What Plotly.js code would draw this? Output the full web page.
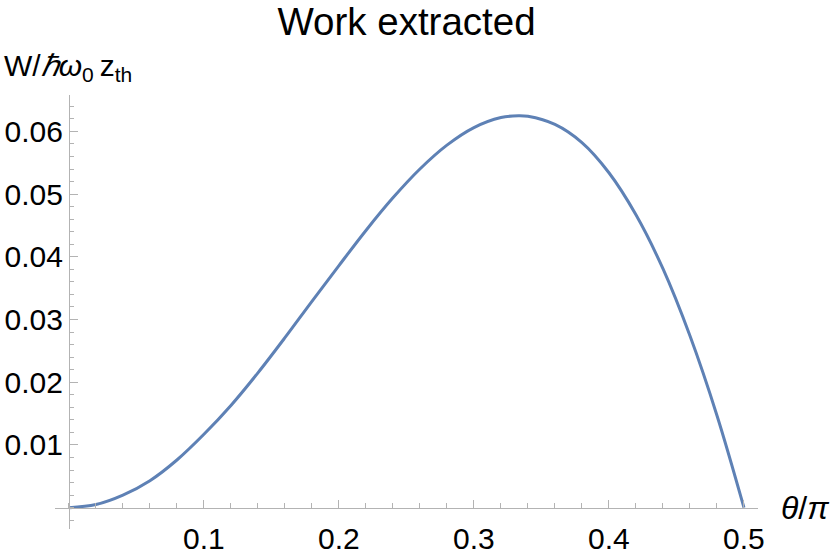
<!DOCTYPE html>
<html>
<head>
<meta charset="utf-8">
<script src="https://cdn.plot.ly/plotly-3.0.1.min.js"></script>
<style>
  html, body { margin: 0; padding: 0; background: #ffffff; }
  #chart { width: 830px; height: 554px; }
</style>
</head>
<body>
<div id="chart"></div>
<script>
// theta / pi
const thetaOverPi = [0, 0.02, 0.04, 0.06, 0.08, 0.10, 0.12, 0.14, 0.16, 0.18, 0.20, 0.22, 0.24,
  0.26, 0.28, 0.30, 0.32, 0.333, 0.34, 0.36, 0.38, 0.40, 0.42, 0.44, 0.46, 0.48, 0.50];
// W / (hbar omega_0 z_th)
const workExtracted = [0, 0.0005, 0.0020, 0.0043, 0.0076, 0.0117, 0.0163, 0.0215, 0.0271, 0.0329, 0.0386, 0.0442, 0.0494,
  0.0540, 0.0578, 0.0606, 0.0622, 0.0625, 0.0624, 0.0611, 0.0582, 0.0534, 0.0467, 0.0381, 0.0274, 0.0147, 0];

const xTicks = [0.1, 0.2, 0.3, 0.4, 0.5];
const yTicks = [0.01, 0.02, 0.03, 0.04, 0.05, 0.06];

const axisGray = '#b3b3b3';
const font = { family: '"Liberation Sans", Arial, sans-serif', color: '#000000' };

const trace = {
  x: thetaOverPi,
  y: workExtracted,
  type: 'scatter',
  mode: 'lines',
  line: { color: '#5e81b5', width: 3, shape: 'spline', smoothing: 1 },
  hoverinfo: 'skip',
  showlegend: false,
};

const layout = {
  width: 830,
  height: 554,
  paper_bgcolor: '#ffffff',
  plot_bgcolor: '#ffffff',
  margin: { l: 55, r: 72, t: 95, b: 25 },
  font: { ...font, size: 30 },
  title: {
    text: 'Work extracted',
    font: { ...font, size: 38.5 },
    x: 0.5,
    xref: 'paper',
    y: 1 - 22 / 554,
    yref: 'container',
    yanchor: 'middle',
  },
  xaxis: {
    range: [-0.0103, 0.5104],
    anchor: 'free',
    position: 0.049,
    showline: true,
    linecolor: axisGray,
    linewidth: 1,
    showgrid: false,
    zeroline: false,
    ticks: 'inside',
    ticklen: 8,
    tickcolor: axisGray,
    tickvals: xTicks,
    ticktext: xTicks.map((v) => v.toFixed(1)),
    tickfont: { ...font, size: 30 },
    ticklabelstandoff: 4,
    minor: { ticks: 'inside', dtick: 0.02, tick0: 0, ticklen: 4.5, tickcolor: axisGray, showgrid: false },
  },
  yaxis: {
    range: [-0.0034, 0.0658],
    anchor: 'free',
    position: 0.0198,
    showline: true,
    linecolor: axisGray,
    linewidth: 1,
    showgrid: false,
    zeroline: false,
    ticks: 'inside',
    ticklen: 8,
    tickcolor: axisGray,
    tickvals: yTicks,
    ticktext: yTicks.map((v) => v.toFixed(2)),
    tickfont: { ...font, size: 30 },
    minor: { ticks: 'inside', dtick: 0.002, tick0: 0, ticklen: 4.5, tickcolor: axisGray, showgrid: false },
  },
  annotations: [
    {
      text: 'W/<i>ℏω</i><sub>0</sub>\u2009z<sub>th</sub>',
      xref: 'paper', yref: 'paper',
      x: -0.0754, y: 1.064,
      xanchor: 'left', yanchor: 'middle',
      showarrow: false,
      font: { ...font, size: 30 },
    },
    {
      text: '<i>θ</i>/<i>π</i>',
      xref: 'paper', yref: 'paper',
      x: 1.030, y: 0.0484,
      xanchor: 'left', yanchor: 'middle',
      showarrow: false,
      font: { ...font, size: 32 },
    },
  ],
};

Plotly.newPlot('chart', [trace], layout, { displayModeBar: false, staticPlot: true });
</script>
</body>
</html>
